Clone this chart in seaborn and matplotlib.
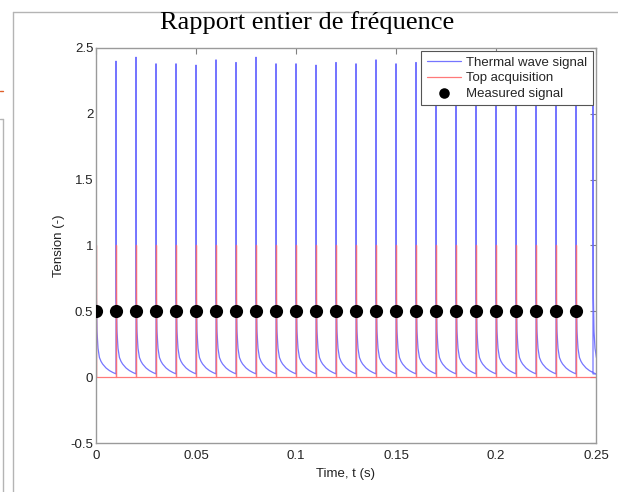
import numpy as np
import pandas as pd
import matplotlib
matplotlib.use("Agg")
import matplotlib.pyplot as plt
from matplotlib.lines import Line2D
import seaborn as sns

# Pulse instants (s) of the thermal wave and the matching peak amplitudes
spike_times = [0.00, 0.01, 0.02, 0.03, 0.04, 0.05, 0.06, 0.07, 0.08, 0.09,
               0.10, 0.11, 0.12, 0.13, 0.14, 0.15, 0.16, 0.17, 0.18, 0.19,
               0.20, 0.21, 0.22, 0.23, 0.24, 0.2485]
spike_peaks = [2.36, 2.40, 2.43, 2.38, 2.38, 2.37, 2.41, 2.39, 2.43, 2.38,
               2.38, 2.37, 2.39, 2.38, 2.41, 2.38, 2.39, 2.37, 2.40, 2.38,
               2.38, 2.39, 2.36, 2.38, 2.39, 2.37]

# Relaxation of the thermal wave after each pulse (delay in s, tension)
decay_delay = [0.0002, 0.0005, 0.0010, 0.0017, 0.0025, 0.0033, 0.0050,
               0.0067, 0.0085, 0.0099]
decay_level = [0.60, 0.35, 0.22, 0.15, 0.12, 0.10, 0.07, 0.05, 0.035, 0.025]

# Acquisition triggers and the sampled (measured) signal
top_times = [0.00, 0.01, 0.02, 0.03, 0.04, 0.05, 0.06, 0.07, 0.08, 0.09,
             0.10, 0.11, 0.12, 0.13, 0.14, 0.15, 0.16, 0.17, 0.18, 0.19,
             0.20, 0.21, 0.22, 0.23, 0.24]
top_level = 1.0
top_width = 0.0001
measured_values = [0.5] * len(top_times)

# ---- build the polylines -------------------------------------------------
wave_t, wave_v = [], []
level = decay_level[-1]
for tk, pk in zip(spike_times, spike_peaks):
    wave_t += [tk, tk]
    wave_v += [level, pk]
    for d, v in zip(decay_delay, decay_level):
        wave_t.append(tk + d)
        wave_v.append(v)
    level = decay_level[-1]

top_t, top_v = [0.0], [0.0]
for tk in top_times:
    top_t += [tk, tk, tk + top_width, tk + top_width]
    top_v += [0.0, top_level, top_level, 0.0]
top_t.append(0.25)
top_v.append(0.0)

wave = pd.DataFrame({"t": wave_t, "v": wave_v})
top = pd.DataFrame({"t": top_t, "v": top_v})
meas = pd.DataFrame({"t": top_times, "v": measured_values})

# ---- figure ---------------------------------------------------------------
sns.set_style("white")
plt.rcParams["font.family"] = ["Liberation Sans", "DejaVu Sans"]

fig = plt.figure(figsize=(6.18, 4.92), dpi=100)
ax = fig.add_axes([96 / 618, 1 - 443 / 492, 500 / 618, 395 / 492])

sns.lineplot(data=wave, x="t", y="v", sort=False, estimator=None,
             color="#6666ff", linewidth=0.9, alpha=0.9, ax=ax,
             label="Thermal wave signal")
sns.lineplot(data=top, x="t", y="v", sort=False, estimator=None,
             color="#ff6a6a", linewidth=0.9, alpha=0.9, ax=ax,
             label="Top acquisition")
sns.scatterplot(data=meas, x="t", y="v", color="black", s=90,
                edgecolor="black", linewidth=0, zorder=5, ax=ax,
                label="Measured signal")

ax.set_xlim(0, 0.25)
ax.set_ylim(-0.5, 2.5)
ax.set_xticks([0, 0.05, 0.1, 0.15, 0.2, 0.25])
ax.set_xticklabels(["0", "0.05", "0.1", "0.15", "0.2", "0.25"])
ax.set_yticks([-0.5, 0, 0.5, 1, 1.5, 2, 2.5])
ax.set_yticklabels(["-0.5", "0", "0.5", "1", "1.5", "2", "2.5"])

ax.tick_params(direction="in", length=4, width=0.8, color="#808080",
               top=True, right=True, labelsize=9.5, labelcolor="#222222")
ax.tick_params(axis="x", pad=5)
ax.tick_params(axis="y", pad=2)
for sp in ax.spines.values():
    sp.set_color("#9a9a9a")
    sp.set_linewidth(1.0)

ax.set_xlabel("Time, t (s)", fontsize=9.5, color="#222222", labelpad=4)
ax.set_ylabel("Tension (-)", fontsize=9.5, color="#222222", labelpad=4)

leg = ax.legend(loc="upper right", fontsize=9.5, frameon=True, fancybox=False,
                framealpha=1, edgecolor="#555555", borderaxespad=0.25,
                handlelength=2.6, handletextpad=0.4, labelspacing=0.25,
                borderpad=0.4, markerscale=0.8)
leg.get_frame().set_linewidth(0.8)

fig.text(0.497, 1 - 29 / 492, "Rapport entier de fréquence",
         family=["Liberation Serif", "DejaVu Serif"], fontsize=19,
         ha="center", va="baseline", color="black")

# page frame around the plot
frame = dict(color="#b4b4b4", linewidth=1.0, transform=fig.transFigure)
fig.add_artist(Line2D([12.5 / 618, 12.5 / 618], [0, 1 - 11.5 / 492], **frame))
fig.add_artist(Line2D([12.5 / 618, 1], [1 - 11.5 / 492, 1 - 11.5 / 492], **frame))
fig.add_artist(Line2D([0, 3 / 618], [1 - 119 / 492, 1 - 119 / 492], **frame))
fig.add_artist(Line2D([3 / 618, 3 / 618], [0, 1 - 119 / 492], **frame))
fig.add_artist(Line2D([0, 2.5 / 618], [1 - 91 / 492, 1 - 91 / 492],
                      color="#e0602a", linewidth=1.0,
                      transform=fig.transFigure))

fig.savefig("out.png", dpi=100)
